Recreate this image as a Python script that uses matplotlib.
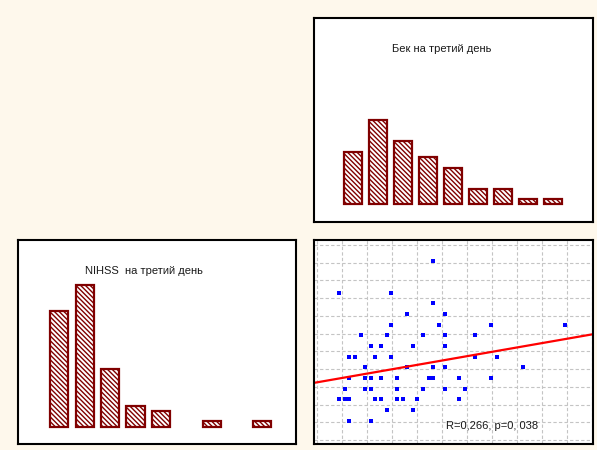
import numpy as np
import matplotlib
matplotlib.use("Agg")
import matplotlib.pyplot as plt

plt.rcParams["font.family"] = ["Liberation Sans", "DejaVu Sans"]
plt.rcParams["hatch.linewidth"] = 1.0

# Гистограммы (число больных в каждом интервале шкалы)
beck_title = "Бек на третий день"
beck_counts = [10, 16, 12, 9, 7, 3, 3, 1, 1]

nihss_title = "NIHSS  на третий день"
nihss_counts = [22, 27, 11, 4, 3, 0, 1, 0, 1]

# Диаграмма рассеяния
scatter_x = [61,
             14, 40,
             61,
             48, 67,
             40, 64, 90, 127,
             25, 38, 56, 67, 82,
             30, 35, 51, 67,
             19, 22, 32, 40, 82, 93,
             27, 48, 61, 67, 106,
             19, 27, 30, 35, 43, 59, 61, 74, 90,
             17, 27, 30, 43, 56, 67, 77,
             14, 17, 19, 32, 35, 43, 46, 53, 74,
             38, 51,
             19, 30]
scatter_y = [15,
             12, 12,
             11,
             10, 10,
             9, 9, 9, 9,
             8, 8, 8, 8, 8,
             7, 7, 7, 7,
             6, 6, 6, 6, 6, 6,
             5, 5, 5, 5, 5,
             4, 4, 4, 4, 4, 4, 4, 4, 4,
             3, 3, 3, 3, 3, 3, 3,
             2, 2, 2, 2, 2, 2, 2, 2, 2,
             1, 1,
             0, 0]
fit_intercept = 3.50
fit_slope = 0.0327
corr_label = "R=0,266, p=0, 038"

W, H = 597, 450
fig = plt.figure(figsize=(W / 100, H / 100), dpi=100)
fig.patch.set_facecolor("#fef8ec")


def panel(x0, y0, x1, y1):
    # прямоугольник в пикселях (от левого верхнего угла)
    ax = fig.add_axes([x0 / W, 1 - y1 / H, (x1 - x0) / W, (y1 - y0) / H])
    ax.set_facecolor("white")
    for s in ax.spines.values():
        s.set_color("black")
        s.set_linewidth(1.5)
    ax.set_xticks([])
    ax.set_yticks([])
    return ax


def hist_bars(ax, counts):
    pos = [i + 1 for i, c in enumerate(counts) if c > 0]
    vals = [c for c in counts if c > 0]
    ax.bar(pos, vals, width=0.71, color="white", edgecolor="#800000",
           linewidth=1.6, hatch="\\" * 7)


# Бек
ax1 = panel(314, 18, 593, 222)
hist_bars(ax1, beck_counts)
ax1.set_xlim(-0.572, 10.588)
ax1.set_ylim(-3.37, 35.49)
fig.text(441.5 / W, 1 - 49 / H, beck_title, ha="center", va="center",
         fontsize=8, color="#1a1a1a")

# NIHSS
ax2 = panel(18, 240, 296, 444)
hist_bars(ax2, nihss_counts)
ax2.set_xlim(-0.626, 10.32)
ax2.set_ylim(-3.30, 35.56)
fig.text(144 / W, 1 - 271 / H, nihss_title, ha="center", va="center",
         fontsize=8, color="#1a1a1a")

# Корреляция
ax3 = panel(314, 240, 593, 444)
ax3.set_xlim(1.33, 140.83)
ax3.set_ylim(-2.19, 16.94)
ax3.set_xticks(np.arange(2.67, 141, 12.5))
ax3.set_yticks(np.arange(-1.81, 17, 1.662))
ax3.tick_params(length=0, labelbottom=False, labelleft=False)
ax3.grid(True, color="#c4c4c4", linestyle=(0, (3, 2)), linewidth=0.8)
ax3.set_axisbelow(True)
ax3.plot(scatter_x, scatter_y, "s", color="#0000ff", markersize=2.2,
         markeredgewidth=0)
xx = np.array(ax3.get_xlim())
ax3.plot(xx, fit_intercept + fit_slope * xx, color="#ff0000", linewidth=1.6)
ax3.text(0.473, 0.088, corr_label, transform=ax3.transAxes, ha="left",
         va="center", fontsize=8, color="#1a1a1a")

fig.savefig("out.png", dpi=100, facecolor=fig.get_facecolor())
